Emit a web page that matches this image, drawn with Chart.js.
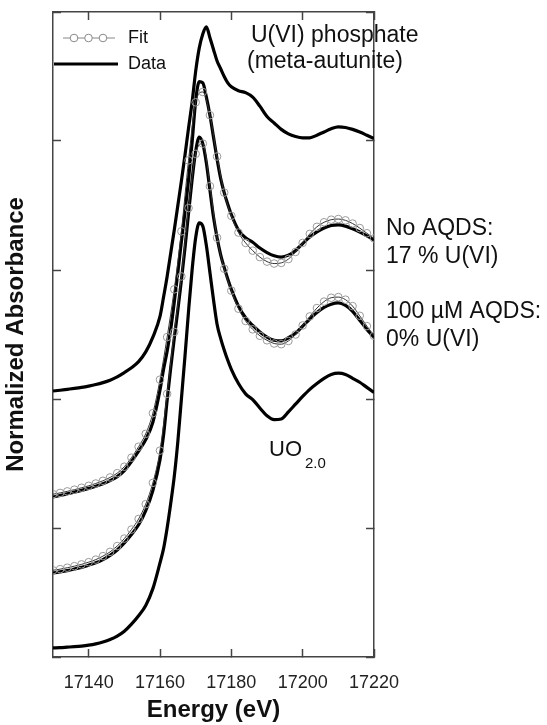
<!DOCTYPE html>
<html>
<head>
<meta charset="utf-8">
<script src="https://cdn.jsdelivr.net/npm/chart.js@4.4.0/dist/chart.umd.min.js"></script>
<style>
  html, body { margin: 0; padding: 0; background: #fff; }
  canvas { display: block; }
</style>
</head>
<body>
<canvas id="xanes-chart" width="547" height="725"></canvas>
<script>
// energy grid of the measured spectra (eV)
const energy = [17130, 17132, 17134, 17136, 17138, 17140, 17142, 17144, 17146, 17148, 17150, 17152, 17154, 17156, 17158, 17160,
  17161, 17162, 17163, 17164, 17165, 17166, 17167, 17168, 17169, 17170, 17171, 17172, 17173, 17174, 17175, 17176, 17177, 17178, 17179,
  17180, 17182, 17184, 17186, 17188, 17190, 17192, 17194, 17196, 17198, 17200, 17202, 17204, 17206, 17208, 17210, 17212, 17214, 17216, 17218, 17220];

// normalized absorbance, stacked with offsets
const uviPhosphate = [2.062, 2.068, 2.075, 2.082, 2.090, 2.100, 2.112, 2.127, 2.146, 2.172, 2.205, 2.242, 2.290, 2.365, 2.48, 2.64,
  2.79, 2.95, 3.13, 3.31, 3.50, 3.69, 3.89, 4.10, 4.30, 4.54, 4.72, 4.83, 4.885, 4.80, 4.71, 4.62, 4.56, 4.50, 4.45,
  4.42, 4.39, 4.375, 4.34, 4.27, 4.19, 4.14, 4.09, 4.055, 4.035, 4.025, 4.025, 4.045, 4.07, 4.095, 4.11, 4.105, 4.09, 4.07, 4.045, 4.02];

const noAqds = [1.240, 1.252, 1.265, 1.278, 1.292, 1.307, 1.323, 1.343, 1.367, 1.398, 1.445, 1.515, 1.595, 1.685, 1.82, 2.07,
  2.23, 2.37, 2.54, 2.75, 2.98, 3.22, 3.45, 3.70, 3.99, 4.31, 4.46, 4.45, 4.34, 4.20, 4.03, 3.86, 3.71, 3.60, 3.51,
  3.43, 3.31, 3.25, 3.215, 3.17, 3.135, 3.11, 3.10, 3.115, 3.15, 3.205, 3.255, 3.295, 3.325, 3.345, 3.35, 3.34, 3.32, 3.295, 3.265, 3.233];

const aqds100 = [0.651, 0.660, 0.670, 0.682, 0.695, 0.712, 0.730, 0.755, 0.788, 0.830, 0.885, 0.950, 1.025, 1.135, 1.29, 1.53,
  1.72, 1.99, 2.24, 2.47, 2.69, 2.92, 3.17, 3.44, 3.70, 3.92, 4.03, 3.98, 3.83, 3.62, 3.41, 3.25, 3.12, 3.02, 2.93,
  2.85, 2.72, 2.63, 2.57, 2.52, 2.48, 2.455, 2.45, 2.475, 2.51, 2.565, 2.62, 2.67, 2.71, 2.735, 2.745, 2.725, 2.68, 2.61, 2.54, 2.48];

const uo2 = [0.070, 0.072, 0.076, 0.080, 0.085, 0.092, 0.102, 0.116, 0.135, 0.162, 0.200, 0.255, 0.320, 0.400, 0.530, 0.73,
  0.84, 1.00, 1.19, 1.40, 1.67, 2.00, 2.33, 2.68, 3.00, 3.25, 3.365, 3.34, 3.19, 2.98, 2.77, 2.58, 2.47, 2.38, 2.30,
  2.23, 2.12, 2.04, 1.995, 1.93, 1.87, 1.84, 1.845, 1.90, 1.96, 2.02, 2.075, 2.12, 2.16, 2.19, 2.20, 2.19, 2.16, 2.13, 2.09, 2.05];

// linear combination fits
const fitEnergy = [17130, 17132, 17134, 17136, 17138, 17140, 17142, 17144, 17146, 17148, 17150, 17152, 17154, 17156, 17158, 17160,
  17162, 17164, 17166, 17168, 17170, 17172, 17174, 17176, 17178, 17180, 17182, 17184, 17186, 17188, 17190, 17192, 17194, 17196,
  17198, 17200, 17202, 17204, 17206, 17208, 17210, 17212, 17214, 17216, 17218, 17220];

const noAqdsFit = [1.262, 1.272, 1.284, 1.297, 1.312, 1.327, 1.345, 1.366, 1.392, 1.425, 1.475, 1.545, 1.630, 1.730, 1.890, 2.150,
  2.480, 2.850, 3.300, 3.850, 4.300, 4.380, 4.200, 3.880, 3.600, 3.420, 3.290, 3.210, 3.150, 3.100, 3.065, 3.050, 3.055, 3.085,
  3.140, 3.210, 3.280, 3.335, 3.370, 3.390, 3.395, 3.385, 3.360, 3.325, 3.285, 3.245];

const aqds100Fit = [0.672, 0.681, 0.692, 0.704, 0.718, 0.735, 0.755, 0.782, 0.815, 0.860, 0.918, 0.988, 1.070, 1.185, 1.350, 1.600,
  2.040, 2.520, 2.950, 3.480, 3.900, 3.980, 3.650, 3.250, 3.010, 2.840, 2.700, 2.605, 2.540, 2.490, 2.455, 2.430, 2.425, 2.450,
  2.500, 2.570, 2.640, 2.705, 2.755, 2.785, 2.790, 2.770, 2.720, 2.645, 2.565, 2.490];

const xTicks = [17140, 17160, 17180, 17200, 17220];
const yTicks = [0, 1, 2, 3, 4, 5];

const FONT = '"Liberation Sans", Arial, sans-serif';
const AXIS = '#444';

const toPoints = (xs, ys) => xs.map((x, i) => ({x: x, y: ys[i]}));

const dataLine = (label, values) => ({
    label: label,
    data: toPoints(energy, values),
    borderColor: '#000',
    borderWidth: 3.2,
    pointRadius: 0,
    cubicInterpolationMode: 'monotone',
    order: 2,
});

const fitLine = (label, values) => ({
    label: label,
    data: toPoints(fitEnergy, values),
    borderColor: '#333',
    borderWidth: 1,
    pointRadius: 3.8,
    pointBorderWidth: 1,
    pointBorderColor: '#9a9a9a',
    pointBackgroundColor: 'rgba(255,255,255,0)',
    cubicInterpolationMode: 'monotone',
    order: 1,
});

const setTicks = values => scale => {
    scale.ticks = values.map(v => ({value: v}));
};

const frameGrid = {
    drawOnChartArea: false,
    drawTicks: true,
    tickLength: -8,
    tickColor: AXIS,
    tickWidth: 1.5,
};
const frameBorder = {color: AXIS, width: 1.5};

// legend and text labels drawn inside / beside the plot
const labels = {
    id: 'labels',
    afterDraw(chart) {
        const ctx = chart.ctx;
        ctx.save();
        ctx.textBaseline = 'middle';

        // legend
        ctx.strokeStyle = '#888';
        ctx.lineWidth = 1;
        ctx.beginPath();
        ctx.moveTo(63, 38);
        ctx.lineTo(115, 38);
        ctx.stroke();
        [74, 88.5, 103].forEach(cx => {
            ctx.beginPath();
            ctx.arc(cx, 38, 3.8, 0, Math.PI * 2);
            ctx.fillStyle = '#fff';
            ctx.fill();
            ctx.stroke();
        });
        ctx.strokeStyle = '#000';
        ctx.lineWidth = 3.2;
        ctx.beginPath();
        ctx.moveTo(54, 64);
        ctx.lineTo(118, 64);
        ctx.stroke();

        ctx.fillStyle = '#111';
        ctx.font = '18px ' + FONT;
        ctx.fillText('Fit', 128, 38);
        ctx.fillText('Data', 128, 64);

        ctx.font = '23px ' + FONT;
        ctx.fillText('U(VI) phosphate', 251, 36);
        ctx.fillText('(meta-autunite)', 247, 62);
        ctx.fillText('No AQDS:', 386, 229);
        ctx.fillText('17 % U(VI)', 386, 257);
        ctx.fillText('100 µM AQDS:', 386, 312);
        ctx.fillText('0% U(VI)', 386, 340);

        ctx.font = '22px ' + FONT;
        ctx.fillText('UO', 269, 450);
        ctx.font = '15px ' + FONT;
        ctx.fillText('2.0', 305, 464);
        ctx.restore();
    }
};

new Chart('xanes-chart', {
    type: 'line',
    data: {
        datasets: [
            dataLine('U(VI) phosphate', uviPhosphate),
            dataLine('No AQDS', noAqds),
            fitLine('No AQDS fit', noAqdsFit),
            dataLine('100 µM AQDS', aqds100),
            fitLine('100 µM AQDS fit', aqds100Fit),
            dataLine('UO2.0', uo2),
        ],
    },
    options: {
        responsive: false,
        animation: false,
        devicePixelRatio: 1,
        layout: {padding: 0},
        scales: {
            x: {
                type: 'linear',
                position: 'bottom',
                min: 17130,
                max: 17220,
                afterBuildTicks: setTicks(xTicks),
                afterFit: s => { s.height = 68; },
                grid: frameGrid,
                border: frameBorder,
                ticks: {
                    padding: 23,
                    color: '#222',
                    font: {family: FONT, size: 18},
                    callback: v => String(v),
                },
                title: {
                    display: true,
                    text: 'Energy (eV)',
                    color: '#111',
                    padding: 0,
                    font: {family: FONT, size: 24, weight: 'bold'},
                },
            },
            xTop: {
                type: 'linear',
                position: 'top',
                min: 17130,
                max: 17220,
                afterBuildTicks: setTicks(xTicks),
                afterFit: s => { s.height = 12; },
                grid: frameGrid,
                border: frameBorder,
                ticks: {display: false},
            },
            y: {
                type: 'linear',
                position: 'left',
                min: 0,
                max: 5,
                afterBuildTicks: setTicks(yTicks),
                afterFit: s => { s.width = 53; },
                grid: frameGrid,
                border: frameBorder,
                ticks: {display: false},
                title: {
                    display: true,
                    text: 'Normalized Absorbance',
                    color: '#111',
                    padding: {top: 2, bottom: 2},
                    font: {family: FONT, size: 24, weight: 'bold'},
                },
            },
            yRight: {
                type: 'linear',
                position: 'right',
                min: 0,
                max: 5,
                afterBuildTicks: setTicks(yTicks),
                afterFit: s => { s.width = 173; },
                grid: frameGrid,
                border: frameBorder,
                ticks: {display: false},
            },
        },
        plugins: {
            legend: {display: false},
            tooltip: {enabled: false},
        },
    },
    plugins: [labels],
});
</script>
</body>
</html>
